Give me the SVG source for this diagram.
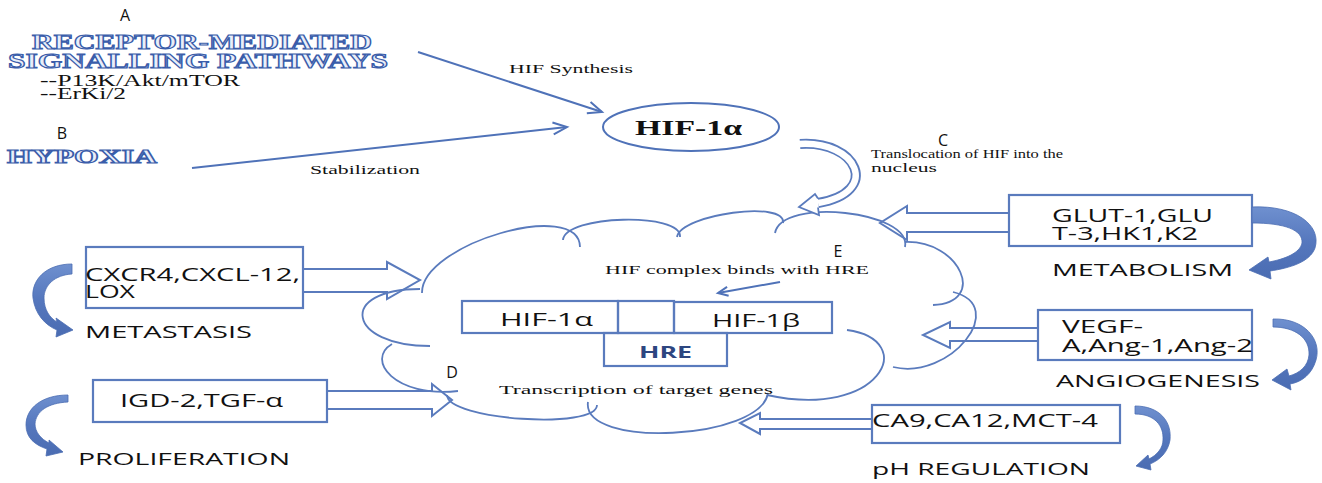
<svg xmlns="http://www.w3.org/2000/svg" width="1322" height="483" viewBox="0 0 1322 483">
  <style>
    .ln { fill: none; stroke: #4f72b8; stroke-width: 2; }
    .cloud { fill: none; stroke: #5a7bbd; stroke-width: 1.8; }
    .box { fill: none; stroke: #5a7bbd; stroke-width: 2.2; }
    .blk { fill: none; stroke: #5a7bbd; stroke-width: 2; stroke-linejoin: miter; }
    .bend { fill: url(#bendGrad); stroke: #4b6db3; stroke-width: 0.8; }
    .serif { font-family: "Liberation Serif", serif; fill: #111; }
    .sans { font-family: "Open Sans", "DejaVu Sans", sans-serif; fill: #111; }
    .tag { font-family: "Open Sans", "DejaVu Sans", sans-serif; font-size: 16px; fill: #111; text-anchor: middle; }
    .title { font-family: "Liberation Serif", serif; font-weight: bold; fill: #e9eef9; stroke: #3a5daa; stroke-width: 1.1; }
  </style>
  <defs>
    <linearGradient id="bendGrad" x1="0" y1="0" x2="0" y2="1">
      <stop offset="0" stop-color="#6f90cf"/>
      <stop offset="0.5" stop-color="#5577bd"/>
      <stop offset="1" stop-color="#4a6cb2"/>
    </linearGradient>
    <marker id="openHead" markerUnits="userSpaceOnUse" markerWidth="20" markerHeight="16" refX="15" refY="7" orient="auto" overflow="visible">
      <path d="M1,1 L15,7 L1,13" fill="none" stroke="#4f72b8" stroke-width="2"/>
    </marker>
    <marker id="smallHead" markerUnits="userSpaceOnUse" markerWidth="14" markerHeight="12" refX="11" refY="5" orient="auto" overflow="visible">
      <path d="M1,0.5 L11,5 L1,9.5" fill="none" stroke="#4f72b8" stroke-width="2"/>
    </marker>
  </defs>

  <rect width="1322" height="483" fill="#ffffff"/>

  <!-- upstream signals -->
  <g id="receptor-pathways">
    <text class="tag" x="125" y="21">A</text>
    <text class="title" x="32" y="49" font-size="21.5" textLength="340" lengthAdjust="spacingAndGlyphs">RECEPTOR-MEDIATED</text>
    <text class="title" x="8" y="67.5" font-size="21.5" textLength="380" lengthAdjust="spacingAndGlyphs">SIGNALLING PATHWAYS</text>
    <text class="serif" x="40" y="86" font-size="16" textLength="200" lengthAdjust="spacingAndGlyphs">--P13K/Akt/mTOR</text>
    <text class="serif" x="40" y="99" font-size="16" textLength="86" lengthAdjust="spacingAndGlyphs">--ErKi/2</text>
  </g>

  <g id="hypoxia">
    <text class="tag" x="62" y="139">B</text>
    <text class="title" x="7" y="163" font-size="18" textLength="150" lengthAdjust="spacingAndGlyphs">HYPOXIA</text>
  </g>

  <g id="hif1a">
    <ellipse cx="691" cy="127" rx="88" ry="24" class="ln"/>
    <text class="serif" x="635" y="135" font-size="20" font-weight="bold" textLength="107" lengthAdjust="spacingAndGlyphs">HIF-1α</text>
  </g>

  <!-- nucleus drawn as a cloud of overlapping bumps -->
  <g id="nucleus-cloud">
    <path class="cloud" d="M422,293 C421,244 579,198 580,247"/>
    <path class="cloud" d="M563,240 C565,215 682,212 680,237"/>
    <path class="cloud" d="M677,237 C681,214 787,200 783,223"/>
    <path class="cloud" d="M775,233 C782,197 912,211 905,247"/>
    <path class="cloud" d="M905,242 C960,240 988,303 933,305"/>
    <path class="cloud" d="M953,292 C1010,306 950,381 893,367"/>
    <path class="cloud" d="M847,330 C920,340 880,420 767,395"/>
    <path class="cloud" d="M768,393 C761,440 581,449 588,402"/>
    <path class="cloud" d="M597,405 C597,430 447,420 447,395"/>
    <path class="cloud" d="M392,344 C365,360 395,398 458,391"/>
    <path class="cloud" d="M430,346 C347,346 337,289 420,289"/>
    <text class="tag" x="838" y="257">E</text>
    <text class="serif" x="605" y="274" font-size="12.5" textLength="264" lengthAdjust="spacingAndGlyphs">HIF complex binds with HRE</text>
    <text class="tag" x="452" y="378">D</text>
    <text class="serif" x="499" y="394" font-size="13" textLength="274" lengthAdjust="spacingAndGlyphs">Transcription of target genes</text>
  </g>

  <g id="hif-complex">
    <rect class="box" x="462" y="301" width="156" height="32"/>
    <rect class="box" x="618" y="301" width="56" height="32"/>
    <rect class="box" x="674" y="302" width="158" height="31"/>
    <rect class="box" x="604" y="333" width="123" height="33"/>
    <text class="sans" x="500" y="326" font-size="18" textLength="93" lengthAdjust="spacingAndGlyphs">HIF-1α</text>
    <text class="sans" x="712" y="327" font-size="18" textLength="88" lengthAdjust="spacingAndGlyphs">HIF-1β</text>
    <text x="639" y="358" font-family="Open Sans, DejaVu Sans, sans-serif" font-weight="bold" font-size="16" fill="#2d4680" textLength="53" lengthAdjust="spacingAndGlyphs">HRE</text>
  </g>

  <!-- target gene groups -->
  <g id="metastasis">
    <rect class="box" x="86" y="247" width="217" height="61"/>
    <text class="sans" x="85" y="281" font-size="18" textLength="215" lengthAdjust="spacingAndGlyphs">CXCR4,CXCL-12,</text>
    <text class="sans" x="85" y="298" font-size="18" textLength="50" lengthAdjust="spacingAndGlyphs">LOX</text>
    <text class="sans" x="85" y="338" font-size="16.5" textLength="167" lengthAdjust="spacingAndGlyphs">METASTASIS</text>
  </g>

  <g id="proliferation">
    <rect class="box" x="93" y="380" width="234" height="42"/>
    <text class="sans" x="120" y="407" font-size="18" textLength="163" lengthAdjust="spacingAndGlyphs">IGD-2,TGF-α</text>
    <text class="sans" x="78" y="465" font-size="16.5" textLength="212" lengthAdjust="spacingAndGlyphs">PROLIFERATION</text>
  </g>

  <g id="metabolism">
    <rect class="box" x="1009" y="195" width="243" height="51"/>
    <text class="sans" x="1052" y="222" font-size="17.5" textLength="161" lengthAdjust="spacingAndGlyphs">GLUT-1,GLU</text>
    <text class="sans" x="1052" y="240" font-size="17.5" textLength="146" lengthAdjust="spacingAndGlyphs">T-3,HK1,K2</text>
    <text class="sans" x="1052" y="276" font-size="16.5" textLength="181" lengthAdjust="spacingAndGlyphs">METABOLISM</text>
  </g>

  <g id="angiogenesis">
    <rect class="box" x="1038" y="310" width="214" height="50"/>
    <text class="sans" x="1062" y="333" font-size="18" textLength="81" lengthAdjust="spacingAndGlyphs">VEGF-</text>
    <text class="sans" x="1062" y="352" font-size="18" textLength="191" lengthAdjust="spacingAndGlyphs">A,Ang-1,Ang-2</text>
    <text class="sans" x="1056" y="387" font-size="16.5" textLength="204" lengthAdjust="spacingAndGlyphs">ANGIOGENESIS</text>
  </g>

  <g id="ph-regulation">
    <rect class="box" x="872" y="405" width="248" height="38"/>
    <text class="sans" x="872" y="427" font-size="18" textLength="226" lengthAdjust="spacingAndGlyphs">CA9,CA12,MCT-4</text>
    <text class="sans" x="872" y="475" font-size="16.5" textLength="218" lengthAdjust="spacingAndGlyphs">pH REGULATION</text>
  </g>

  <g id="connectors">
    <!-- signal inputs to HIF-1α -->
    <line class="ln" x1="418" y1="52" x2="602" y2="112" marker-end="url(#openHead)"/>
    <text class="serif" x="509" y="73" font-size="12.5" textLength="124" lengthAdjust="spacingAndGlyphs">HIF Synthesis</text>
    <line class="ln" x1="192" y1="168" x2="567" y2="127" marker-end="url(#openHead)"/>
    <text class="serif" x="310" y="174" font-size="12.5" textLength="110" lengthAdjust="spacingAndGlyphs">Stabilization</text>

    <!-- C: translocation into the nucleus (hollow bent arrow) -->
    <path d="M800,144 C857,140 882,192 818,203" fill="none" stroke="#5a7bbd" stroke-width="10"/>
    <path d="M799,144 C857,140 882,192 818,203" fill="none" stroke="#ffffff" stroke-width="6.4"/>
    <path d="M818,198.5 L815,194 L799,207 L819,215 L818,207.5" fill="#ffffff" stroke="#5a7bbd" stroke-width="1.8"/>
    <text class="tag" x="943" y="146">C</text>
    <text class="serif" x="871" y="158" font-size="12.5" textLength="192" lengthAdjust="spacingAndGlyphs">Translocation of HIF into the</text>
    <text class="serif" x="871" y="172" font-size="12.5" textLength="66" lengthAdjust="spacingAndGlyphs">nucleus</text>

    <!-- E: complex binding to HRE -->
    <line class="ln" x1="780" y1="282" x2="718" y2="293" marker-end="url(#smallHead)"/>

    <!-- hollow block arrows from gene groups into the nucleus -->
    <path class="blk" d="M303,269 L387,269 L387,262 L420,280 L387,299 L387,292 L303,292"/>
    <path class="blk" d="M327,391 L432,391 L432,384 L452,400 L432,416 L432,409 L327,409"/>
    <path class="blk" d="M1009,213 L907,213 L907,206 L880,223 L907,240 L907,232 L1009,232"/>
    <path class="blk" d="M1038,328 L950,328 L950,322 L923,335 L950,348 L950,341 L1038,341"/>
    <path class="blk" d="M872,419 L760,419 L760,413 L740,423 L760,434 L760,429 L872,429"/>

    <!-- curved outcome arrows -->
    <path class="bend" d="M72,264 C46,264 31,280 33,298 C35,314 45,325 57,330 L56,337 L73,330 L56,318 L57,322 C50,318 44,310 44,298 C44,285 55,275 72,274 Z"/>
    <path class="bend" d="M68,395 C42,395 26,408 26,425 C26,438 35,445 47,449 L46,456 L63,452 L49,440 L49,443 C41,439 35,432 35,424 C36,411 48,403 68,402 Z"/>
    <path class="bend" d="M1252,207 C1295,205 1322,225 1315,248 C1310,262 1290,268 1270,271 L1271,279 L1249,270 L1268,257 L1269,262 C1285,259 1300,253 1302,243 C1303,230 1285,223 1252,223 Z"/>
    <path class="bend" d="M1273,319 C1305,318 1322,340 1316,360 C1312,374 1302,382 1290,384 L1291,390 L1272,380 L1287,369 L1289,376 C1300,373 1308,366 1309,355 C1310,338 1295,327 1273,327 Z"/>
    <path class="bend" d="M1135,406 C1160,406 1172,422 1170,440 C1168,452 1160,460 1150,464 L1151,470 L1136,466 L1148,455 L1149,459 C1157,455 1163,448 1163,440 C1164,426 1155,414 1135,414 Z"/>
  </g>
</svg>
